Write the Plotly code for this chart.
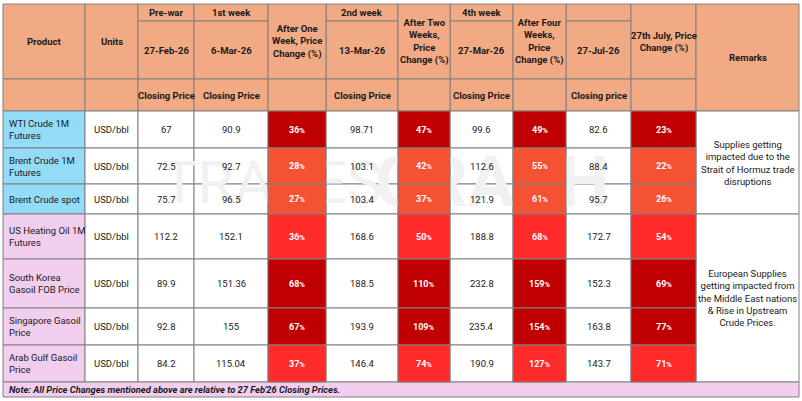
from itertools import accumulate

import plotly.graph_objects as go

# ---- table content -------------------------------------------------------
products = [
    "WTI Crude 1M<br>Futures",
    "Brent Crude 1M<br>Futures",
    "Brent Crude spot",
    "US Heating Oil 1M<br>Futures",
    "South Korea<br>Gasoil FOB Price",
    "Singapore Gasoil<br>Price",
    "Arab Gulf Gasoil<br>Price",
]
units = ["USD/bbl"] * 7
product_group = ["crude", "crude", "crude", "distillate", "distillate", "distillate", "distillate"]

prewar = [67, 72.5, 75.7, 112.2, 89.9, 92.8, 84.2]
week1 = [90.9, 92.7, 96.5, 152.1, 151.36, 155, 115.04]
chg_week1 = [36, 28, 27, 36, 68, 67, 37]
week2 = [98.71, 103.1, 103.4, 168.6, 188.5, 193.9, 146.4]
chg_week2 = [47, 42, 37, 50, 110, 109, 74]
week4 = [99.6, 112.6, 121.9, 188.8, 232.8, 235.4, 190.9]
chg_week4 = [49, 55, 61, 68, 159, 154, 127]
jul27 = [82.6, 88.4, 95.7, 172.7, 152.3, 163.8, 143.7]
chg_jul27 = [23, 22, 26, 54, 69, 77, 71]

# shade used for the % change cells of each row
row_shade = ["dark", "orange", "orange", "red", "dark", "dark", "red"]

period_labels = ["Pre-war", "1st week", "2nd week", "4th week", ""]
date_labels = ["27-Feb-26", "6-Mar-26", "13-Mar-26", "27-Mar-26", "27-Jul-26"]
sub_labels = ["Closing Price", "Closing Price", "Closing Price", "Closing Price", "Closing price"]
change_labels = [
    "After One<br>Week, Price<br>Change (%)",
    "After Two<br>Weeks,<br>Price<br>Change (%)",
    "After Four<br>Weeks,<br>Price<br>Change (%)",
    "27th July, Price<br>Change (%)",
]

remarks = [
    "Supplies getting<br>impacted due to the<br>Strait of Hormuz trade<br>disruptions",
    "European Supplies<br>getting impacted from<br>the Middle East nations<br>& Rise in Upstream<br>Crude Prices.",
]
note = "Note: All Price Changes mentioned above are relative to 27 Feb'26 Closing Prices."

# ---- styling ---------------------------------------------------------------
HEADER = "#F2AA85"
GROUP_FILL = {"crude": "#93DCF7", "distillate": "#F2CEEE"}
SHADE_FILL = {"dark": "#C00000", "orange": "#F55133", "red": "#FF2B2B"}
BORDER = "#808080"
FONT = "Roboto, Liberation Sans, sans-serif"
TXT = "#1a1a1a"

col_widths = [82, 53, 56, 74, 58, 72, 52, 63, 53, 65, 65, 103]
row_heights = [17, 58, 32, 37, 36, 30, 45, 49, 37, 37, 15]
xe = list(accumulate(col_widths, initial=3))
ye = list(accumulate(row_heights, initial=4))

price_cols = [2, 3, 5, 7, 9]
change_cols = [4, 6, 8, 10]
price_data = [prewar, week1, week2, week4, jul27]
change_data = [chg_week1, chg_week2, chg_week4, chg_jul27]

fig = go.Figure()
shapes = []
annotations = []


def cell(c0, c1, r0, r1, fill, text="", size=9.5, bold=False, color=TXT,
         align="center", layer="below", italic=False):
    shapes.append(dict(
        type="rect", xref="x", yref="y", x0=xe[c0], x1=xe[c1], y0=ye[r0], y1=ye[r1],
        fillcolor=fill, line=dict(color=BORDER, width=1), layer=layer,
    ))
    if not text:
        return
    if bold:
        text = f"<b>{text}</b>"
    if italic:
        text = f"<i>{text}</i>"
    left = align == "left"
    annotations.append(dict(
        x=xe[c0] + 4 if left else (xe[c0] + xe[c1]) / 2,
        y=(ye[r0] + ye[r1]) / 2,
        xref="x", yref="y", text=text, showarrow=False,
        xanchor="left" if left else "center", yanchor="middle",
        align=align, font=dict(family=FONT, size=size, color=color),
    ))


# header
cell(0, 1, 0, 2, HEADER, "Product", bold=True)
cell(1, 2, 0, 2, HEADER, "Units", bold=True)
cell(0, 1, 2, 3, HEADER)
cell(1, 2, 2, 3, HEADER)
for c, top, date, sub in zip(price_cols, period_labels, date_labels, sub_labels):
    cell(c, c + 1, 0, 1, HEADER, top, bold=True)
    cell(c, c + 1, 1, 2, HEADER, date, bold=True)
    cell(c, c + 1, 2, 3, HEADER, sub, bold=True)
for c, lab in zip(change_cols, change_labels):
    cell(c, c + 1, 0, 2, HEADER, lab, bold=True)
    cell(c, c + 1, 2, 3, HEADER)
cell(11, 12, 0, 3, HEADER, "Remarks", bold=True)

# body
for i, name in enumerate(products):
    r = 3 + i
    cell(0, 1, r, r + 1, GROUP_FILL[product_group[i]], name, align="left")
    cell(1, 2, r, r + 1, "white", units[i])
    for c, vals in zip(price_cols, price_data):
        cell(c, c + 1, r, r + 1, "white", str(vals[i]))
    for c, vals in zip(change_cols, change_data):
        pct = f"<b>{vals[i]}<span style='font-size:7.5px'>%</span></b>"
        cell(c, c + 1, r, r + 1, SHADE_FILL[row_shade[i]], pct, size=9,
             color="white", layer="above")

# remarks merged over the product groups
start = 0
for text, grp in zip(remarks, ["crude", "distillate"]):
    n = product_group.count(grp)
    cell(11, 12, 3 + start, 3 + start + n, "white", text)
    start += n

# note row
cell(0, 12, 10, 11, "#F2CEEE", note, size=9.3, bold=True, italic=True, align="left")

# faint watermark (sits under the coloured cells)
fig.add_trace(go.Scatter(
    x=[272], y=[188], mode="text", text=["TRADES"], hoverinfo="skip",
    textfont=dict(family="Liberation Sans Narrow, Roboto", size=60, color="#F1F1F1"),
))
fig.add_trace(go.Scatter(
    x=[492], y=[188], mode="text", text=["<b>GRAPH</b>"], hoverinfo="skip",
    textfont=dict(family="Roboto", size=70, color="#F1F1F1"),
))

fig.update_layout(
    width=802, height=401,
    margin=dict(l=0, r=0, t=0, b=0),
    paper_bgcolor="white", plot_bgcolor="white",
    showlegend=False,
    xaxis=dict(range=[0, 802], visible=False, fixedrange=True),
    yaxis=dict(range=[401, 0], visible=False, fixedrange=True),
    shapes=shapes, annotations=annotations,
)

# the page body has a default 8px margin; drop it so the table sits at the window edge
fig.write_html(
    "out.html",
    config={"displayModeBar": False},
    post_script="document.body.style.margin='0';",
)
